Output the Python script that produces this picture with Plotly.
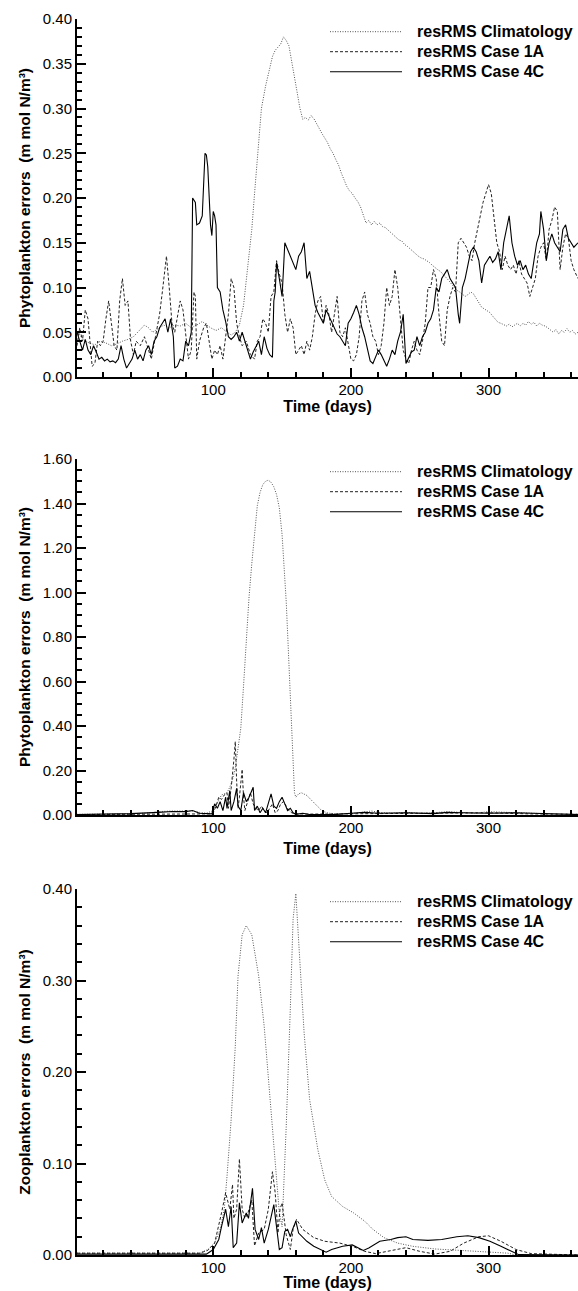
import plotly.graph_objects as go

W, H = 578, 1291

# ---------------- Panel 1: Phytoplankton errors (0-0.40) ----------------
p1_clim_day = [1,4,7,10,14,18,22,26,30,34,38,42,46,50,53,56,60,64,68,72,76,80,84,88,92,95,98,102,106,110,113,116,119,122,125,128,130,133,135,138,141,143,145,147,149,151,153,155,157,159,161,163,165,167,169,171,173,175,177,179,181,183,185,187,189,191,193,195,197,199,201,203,205,207,209,211,213,215,217,219,221,223,225,227,229,231,233,235,237,239,241,243,245,247,249,251,253,255,257,259,261,263,265,267,269,271,273,275,277,279,281,283,285,287,289,291,293,295,297,299,301,303,305,307,309,311,313,315,317,319,321,323,325,327,329,331,333,335,337,339,341,343,345,347,349,351,353,355,357,359,361,363,365]
p1_clim_val = [0.050,0.045,0.040,0.038,0.036,0.040,0.038,0.035,0.037,0.040,0.042,0.045,0.052,0.058,0.055,0.050,0.054,0.058,0.055,0.058,0.057,0.060,0.055,0.058,0.062,0.058,0.055,0.052,0.055,0.050,0.047,0.050,0.058,0.080,0.120,0.165,0.205,0.265,0.300,0.325,0.345,0.358,0.365,0.368,0.372,0.380,0.376,0.370,0.352,0.335,0.318,0.300,0.288,0.290,0.287,0.292,0.289,0.283,0.278,0.272,0.267,0.262,0.255,0.250,0.243,0.237,0.228,0.220,0.213,0.208,0.205,0.200,0.196,0.190,0.180,0.172,0.175,0.170,0.174,0.170,0.172,0.168,0.167,0.164,0.162,0.158,0.156,0.153,0.152,0.148,0.146,0.143,0.140,0.137,0.135,0.133,0.132,0.130,0.128,0.125,0.122,0.120,0.118,0.115,0.112,0.108,0.104,0.100,0.097,0.095,0.093,0.090,0.092,0.095,0.093,0.088,0.082,0.078,0.076,0.074,0.072,0.068,0.064,0.061,0.060,0.058,0.057,0.059,0.056,0.058,0.060,0.057,0.060,0.058,0.062,0.059,0.061,0.057,0.060,0.058,0.057,0.055,0.052,0.050,0.053,0.048,0.052,0.050,0.054,0.050,0.052,0.048,0.050]

p1_1a_day = [1,3,5,7,9,11,12,14,16,18,20,22,24,26,28,30,32,34,36,38,40,42,44,47,50,53,55,58,61,63,65,66,68,70,72,74,76,78,80,82,84,86,87,88,90,93,95,97,99,101,103,105,107,109,111,113,115,117,119,121,124,127,130,132,134,136,138,140,142,144,146,148,150,152,154,156,158,160,162,164,166,168,170,172,174,176,178,180,182,184,186,188,190,192,194,196,198,200,202,204,206,208,210,212,214,216,218,220,222,224,226,228,230,232,234,236,238,240,242,244,246,248,250,252,254,256,258,260,262,264,266,268,270,272,274,276,278,280,282,284,286,288,290,292,294,296,298,300,302,304,306,308,310,312,314,316,318,320,322,324,326,328,330,332,334,336,338,340,342,344,346,348,350,352,354,356,358,360,362,365]
p1_1a_val = [0.035,0.055,0.040,0.075,0.065,0.030,0.012,0.015,0.040,0.035,0.040,0.065,0.085,0.060,0.035,0.030,0.085,0.110,0.080,0.085,0.040,0.025,0.040,0.035,0.045,0.030,0.020,0.045,0.070,0.095,0.120,0.135,0.100,0.060,0.050,0.070,0.085,0.075,0.050,0.020,0.030,0.095,0.090,0.020,0.040,0.055,0.060,0.040,0.020,0.030,0.025,0.035,0.020,0.045,0.070,0.110,0.100,0.060,0.045,0.035,0.040,0.025,0.020,0.040,0.045,0.065,0.060,0.050,0.090,0.095,0.130,0.115,0.105,0.070,0.050,0.065,0.055,0.025,0.030,0.035,0.025,0.040,0.030,0.045,0.070,0.085,0.090,0.060,0.080,0.070,0.050,0.070,0.090,0.050,0.045,0.055,0.035,0.020,0.018,0.025,0.045,0.085,0.095,0.070,0.060,0.045,0.040,0.025,0.035,0.060,0.100,0.080,0.090,0.120,0.100,0.060,0.030,0.020,0.015,0.030,0.040,0.030,0.025,0.040,0.060,0.100,0.100,0.120,0.110,0.070,0.040,0.035,0.075,0.090,0.100,0.095,0.150,0.155,0.150,0.145,0.135,0.130,0.150,0.165,0.180,0.195,0.205,0.215,0.205,0.180,0.150,0.140,0.120,0.135,0.125,0.120,0.125,0.115,0.130,0.115,0.110,0.105,0.090,0.100,0.110,0.135,0.145,0.150,0.130,0.165,0.175,0.190,0.185,0.120,0.145,0.160,0.155,0.130,0.120,0.110]

p1_4c_day = [1,3,5,7,9,11,13,15,17,19,21,23,25,27,29,31,33,35,37,39,41,43,45,47,49,51,53,55,57,59,61,63,65,67,69,71,72,74,76,78,80,82,84,85,87,88,90,92,94,95,96,98,99,100,101,102,103,105,107,109,111,113,115,117,119,121,123,125,127,129,131,133,135,137,139,141,143,144,145,146,148,150,152,154,156,158,160,162,164,166,168,170,172,174,176,178,180,182,184,186,188,190,192,194,196,198,200,202,204,206,208,210,212,214,216,218,220,222,224,226,228,230,232,234,236,238,240,242,244,246,248,250,252,254,256,258,260,262,264,266,268,270,272,274,276,278,279,281,283,285,287,289,291,293,295,297,299,301,303,305,307,309,311,313,315,317,319,321,323,325,327,329,331,333,335,337,338,340,342,344,346,348,350,352,354,356,358,360,362,365]
p1_4c_val = [0.050,0.040,0.030,0.042,0.030,0.025,0.035,0.028,0.020,0.022,0.018,0.020,0.017,0.018,0.016,0.020,0.035,0.020,0.010,0.015,0.020,0.030,0.020,0.025,0.018,0.030,0.035,0.025,0.040,0.045,0.055,0.060,0.065,0.050,0.065,0.045,0.010,0.012,0.020,0.018,0.040,0.035,0.050,0.200,0.195,0.170,0.172,0.180,0.250,0.248,0.235,0.170,0.158,0.185,0.180,0.170,0.100,0.095,0.075,0.062,0.045,0.042,0.045,0.050,0.040,0.050,0.040,0.030,0.020,0.028,0.035,0.040,0.025,0.045,0.032,0.025,0.022,0.085,0.095,0.128,0.110,0.090,0.150,0.142,0.135,0.128,0.120,0.135,0.140,0.150,0.110,0.118,0.100,0.080,0.072,0.065,0.060,0.075,0.068,0.060,0.055,0.048,0.045,0.040,0.035,0.060,0.065,0.072,0.080,0.070,0.055,0.045,0.030,0.018,0.015,0.022,0.030,0.025,0.018,0.012,0.020,0.030,0.025,0.040,0.050,0.070,0.015,0.022,0.028,0.030,0.045,0.035,0.045,0.050,0.060,0.065,0.075,0.100,0.095,0.110,0.115,0.120,0.110,0.105,0.100,0.070,0.060,0.100,0.110,0.125,0.140,0.145,0.140,0.130,0.105,0.125,0.130,0.135,0.128,0.132,0.140,0.120,0.150,0.165,0.180,0.150,0.135,0.125,0.130,0.120,0.125,0.115,0.110,0.130,0.150,0.160,0.185,0.165,0.130,0.150,0.160,0.150,0.145,0.140,0.165,0.170,0.155,0.150,0.145,0.150]

# ---------------- Panel 2: Phytoplankton errors (0-1.60) ----------------
p2_clim_day = [1,20,40,55,60,70,80,85,90,95,100,102,104,106,108,110,112,114,116,118,120,122,124,126,128,130,132,134,136,138,140,142,144,146,148,150,152,153,154,155,156,157,158,159,160,162,164,166,168,170,172,174,176,178,180,184,190,200,205,210,215,220,230,240,250,260,270,280,290,300,310,320,330,340,350,365]
p2_clim_val = [0.003,0.004,0.005,0.010,0.015,0.018,0.020,0.018,0.012,0.008,0.020,0.045,0.070,0.090,0.095,0.100,0.125,0.160,0.210,0.290,0.390,0.580,0.800,0.980,1.130,1.280,1.390,1.450,1.485,1.500,1.505,1.495,1.475,1.440,1.380,1.260,1.080,0.960,0.820,0.660,0.500,0.340,0.180,0.100,0.080,0.095,0.100,0.095,0.088,0.075,0.062,0.048,0.035,0.025,0.016,0.008,0.005,0.006,0.010,0.015,0.018,0.012,0.008,0.012,0.008,0.010,0.015,0.012,0.008,0.015,0.012,0.010,0.008,0.006,0.004,0.003]

p2_1a_day = [1,50,90,98,100,102,104,106,108,110,111,113,115,116,117,118,119,120,121,122,123,125,127,129,131,133,135,137,139,141,143,145,147,149,151,153,155,157,160,170,200,240,270,300,330,365]
p2_1a_val = [0.002,0.003,0.004,0.005,0.010,0.040,0.080,0.070,0.090,0.100,0.030,0.120,0.250,0.330,0.150,0.030,0.080,0.150,0.205,0.080,0.020,0.060,0.100,0.050,0.030,0.020,0.040,0.020,0.010,0.030,0.050,0.010,0.020,0.050,0.060,0.040,0.020,0.010,0.005,0.004,0.005,0.008,0.006,0.010,0.005,0.003]

p2_4c_day = [1,20,40,60,70,80,85,90,95,99,101,103,105,107,109,110,112,113,115,117,118,120,122,124,126,128,129,130,132,134,136,138,140,142,144,146,148,150,152,154,156,158,160,165,170,190,200,210,220,240,260,270,280,300,320,340,365]
p2_4c_val = [0.002,0.003,0.006,0.012,0.016,0.015,0.020,0.008,0.005,0.005,0.050,0.030,0.060,0.020,0.080,0.030,0.110,0.020,0.060,0.120,0.040,0.020,0.100,0.060,0.080,0.110,0.125,0.020,0.040,0.010,0.030,0.010,0.050,0.095,0.040,0.030,0.060,0.080,0.050,0.020,0.030,0.010,0.003,0.008,0.002,0.003,0.008,0.012,0.008,0.010,0.006,0.012,0.010,0.008,0.010,0.006,0.002]

# ---------------- Panel 3: Zooplankton errors (0-0.40) ----------------
p3_clim_day = [1,40,80,90,96,101,105,108,110,113,116,118,121,124,128,133,137,141,145,148,150,153,156,158,160,162,166,170,176,181,186,194,202,210,216,224,234,245,261,280,293,314,320,365]
p3_clim_val = [0.002,0.002,0.002,0.002,0.006,0.013,0.028,0.050,0.086,0.148,0.228,0.305,0.350,0.360,0.350,0.305,0.250,0.177,0.104,0.046,0.031,0.140,0.270,0.367,0.395,0.340,0.243,0.170,0.115,0.082,0.064,0.053,0.046,0.037,0.028,0.019,0.013,0.0095,0.0066,0.005,0.004,0.002,0.000,0.000]

p3_1a_day = [1,40,90,96,101,106,109,112,114,115,117,119,121,123,125,128,130,133,137,140,143,145,147,148.5,150,153,156,158,160.5,165,173,181,192,202,210,218,226,240,250,261,272,282,293,300,309,320,331,365]
p3_1a_val = [0.002,0.002,0.002,0.005,0.013,0.046,0.068,0.050,0.077,0.040,0.050,0.105,0.050,0.040,0.045,0.060,0.010,0.024,0.028,0.050,0.091,0.068,0.024,0.050,0.057,0.022,0.006,0.028,0.039,0.028,0.019,0.015,0.013,0.009,0.004,0.0015,0.004,0.008,0.004,0.001,0.004,0.013,0.020,0.021,0.015,0.006,0.0015,0.000]

p3_4c_day = [1,40,95,100,104,106,109,111,113,114.5,117,119,121,124,125.6,128.5,130.4,133,135,137,140,144,146,148,150,152,154,156,157.6,160,162,168,173,178,182,186,194,201,205,209,213,221,229,234,240,245,256,266,277,285,293,301,309,317,322,365]
p3_4c_val = [0.001,0.001,0.001,0.006,0.017,0.031,0.050,0.031,0.053,0.008,0.013,0.057,0.035,0.046,0.040,0.073,0.028,0.017,0.030,0.013,0.028,0.055,0.031,0.006,0.008,0.026,0.028,0.020,0.028,0.037,0.024,0.015,0.0095,0.006,0.003,0.006,0.0095,0.011,0.0077,0.005,0.0077,0.015,0.017,0.019,0.020,0.017,0.016,0.017,0.020,0.021,0.019,0.015,0.0095,0.004,0.0004,0.000]

series_names = ["resRMS Climatology", "resRMS Case 1A", "resRMS Case 4C"]
y_titles = ["Phytoplankton errors\u00a0 (m mol N/m\u00b3)",
            "Phytoplankton errors\u00a0 (m mol N/m\u00b3)",
            "Zooplankton errors\u00a0 (m mol N/m\u00b3)"]
x_title = "Time (days)"
y_ranges = [[0, 0.40], [0, 1.60], [0, 0.40]]
y_dticks = [0.05, 0.20, 0.10]
y_minor = [0.01, 0.05, 0.02]
x_ticks = [100, 200, 300]

styles = [
    dict(color="#555555", width=1, dash="1px,1.5px"),
    dict(color="#222222", width=1, dash="3px,2px"),
    dict(color="#000000", width=1.1, dash="solid"),
]

panels = [
    [(p1_clim_day, p1_clim_val), (p1_1a_day, p1_1a_val), (p1_4c_day, p1_4c_val)],
    [(p2_clim_day, p2_clim_val), (p2_1a_day, p2_1a_val), (p2_4c_day, p2_4c_val)],
    [(p3_clim_day, p3_clim_val), (p3_1a_day, p3_1a_val), (p3_4c_day, p3_4c_val)],
]

# pixel geometry of each plot area (top, bottom) and x-title standoff
geom = [(19, 377, 1), (459, 815, 8), (889, 1255, 1)]
x_left = 77

FONT = "Liberation Sans, Arial, Helvetica, sans-serif"
BOLD16 = dict(family=FONT, size=16, color="black", weight="bold")

fig = go.Figure()
layout = dict(
    width=W, height=H, margin=dict(l=0, r=0, t=0, b=0),
    paper_bgcolor="white", plot_bgcolor="white", showlegend=False,
    font=dict(family=FONT, color="black"),
)
annotations = []
shapes = []

def py(p):
    return 1 - p / H

def px(p):
    return p / W

for i, (top, bot, xstand) in enumerate(geom):
    n = "" if i == 0 else str(i + 1)
    for j, (d, v) in enumerate(panels[i]):
        fig.add_trace(go.Scatter(x=d, y=v, mode="lines", name=series_names[j],
                                 line=styles[j], xaxis="x" + n, yaxis="y" + n,
                                 hoverinfo="skip"))
    axis_common = dict(showgrid=False, zeroline=False, showline=True,
                       linecolor="black", linewidth=2, ticks="inside",
                       tickcolor="black", tickwidth=1.5, ticklen=9,
                       tickfont=dict(family=FONT, size=15, color="black"),
                       automargin=False)
    layout["xaxis" + n] = dict(axis_common, domain=[px(x_left), 1], range=[1, 365],
                               anchor="y" + n, tickvals=x_ticks, ticklabelstandoff=-2,
                               title=dict(text=x_title, standoff=xstand, font=BOLD16),
                               minor=dict(dtick=20, tick0=0, ticks="inside", ticklen=5,
                                          tickwidth=1.5, tickcolor="black"))
    layout["yaxis" + n] = dict(axis_common, domain=[py(bot), py(top)], range=y_ranges[i],
                               anchor="x" + n, dtick=y_dticks[i], tick0=0, tickformat=".2f",
                               title=dict(text=y_titles[i], standoff=8,
                                          font=dict(family=FONT, size=15.5, color="black",
                                                    weight="bold")),
                               minor=dict(dtick=y_minor[i], tick0=0, ticks="inside", ticklen=5,
                                          tickwidth=1.5, tickcolor="black"))
    # legend (drawn manually: long line samples + bold labels)
    for j in range(3):
        ry = top + 12.7 + 20 * j
        shapes.append(dict(type="line", xref="paper", yref="paper",
                           x0=px(330), x1=px(402), y0=py(ry), y1=py(ry),
                           line=styles[j]))
        annotations.append(dict(text=series_names[j], xref="paper",
                                yref="paper", x=px(415), y=py(ry), xanchor="left",
                                yanchor="middle", showarrow=False, font=BOLD16))

layout["annotations"] = annotations
layout["shapes"] = shapes
fig.update_layout(**layout)
fig.write_html("out.html")
